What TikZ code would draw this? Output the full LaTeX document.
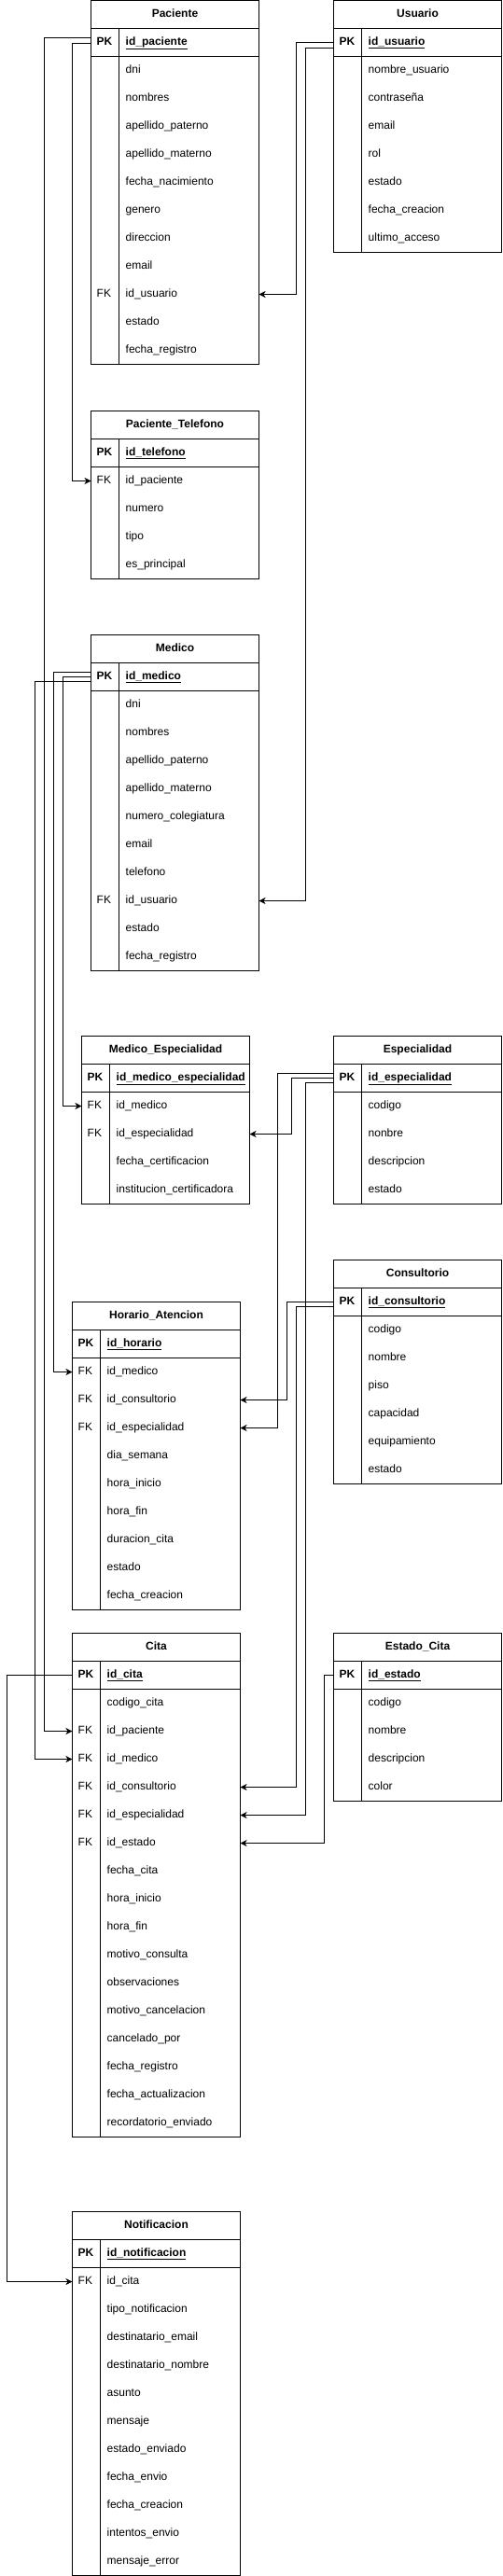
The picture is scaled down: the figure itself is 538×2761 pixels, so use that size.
\documentclass[tikz,border=0pt]{standalone}
\usepackage{fontspec}
\setmainfont{Liberation Sans}
\usetikzlibrary{arrows.meta,calc}
\tikzset{
  tabla/.style={draw=black, line width=1pt},
  fila/.style={anchor=north west, minimum width=180pt, minimum height=30pt, inner sep=0pt, outer sep=0pt},
  titulo/.style={inner sep=0pt, text height=9pt, text depth=3pt, font=\fontsize{12}{14}\selectfont\bfseries},
  clave/.style={anchor=west, inner sep=0pt, text height=9pt, text depth=3pt, font=\fontsize{12}{14}\selectfont},
  campo/.style={anchor=west, inner sep=0pt, text height=9pt, text depth=3pt, font=\fontsize{12}{14}\selectfont},
  relacion/.style={draw=black, line width=1pt, -{Stealth[length=7pt,width=7pt,inset=2pt]}},
}
\newcommand{\tabla}[7]{%
  \node[fila] (#1) at (#2,#3) {};
  \node[titulo] at (#1.center) {#4};
  \node[fila] (#1-pk) at (#2,#3+30) {};
  \node[clave,font=\fontsize{12}{14}\selectfont\bfseries] at ([xshift=6pt]#1-pk.west) {PK};
  \node[campo,font=\fontsize{12}{14}\selectfont\bfseries] at ([xshift=37pt]#1-pk.west) {\underline{#5}};
  \foreach \k/\f [count=\i] in {#6} {
    \node[fila] (#1-\i) at (#2,#3+30+30*\i) {};
    \node[clave] at ([xshift=6pt]#1-\i.west) {\k};
    \node[campo] at ([xshift=37pt]#1-\i.west) {\f};
  }
  \draw[tabla] (#2,#3) rectangle ++(180,60+30*#7);
  \draw[tabla] (#2,#3+30) -- ++(180,0) (#2,#3+60) -- ++(180,0) (#2+30,#3+30) -- ++(0,30+30*#7);
}

\begin{document}
\begin{tikzpicture}[x=1pt,y=-1pt]
\useasboundingbox (0,0) rectangle (538,2761);
\tabla{paciente}{97.5}{0.5}{Paciente}{id\_paciente}{/dni,/nombres,/apellido\_paterno,/apellido\_materno,/fecha\_nacimiento,/genero,/direccion,/email,FK/id\_usuario,/estado,/fecha\_registro}{11}
\tabla{usuario}{357.5}{0.5}{Usuario}{id\_usuario}{/nombre\_usuario,/contraseña,/email,/rol,/estado,/fecha\_creacion,/ultimo\_acceso}{7}
\tabla{telefono}{97.5}{440.5}{Paciente\_Telefono}{id\_telefono}{FK/id\_paciente,/numero,/tipo,/es\_principal}{4}
\tabla{medico}{97.5}{680.5}{Medico}{id\_medico}{/dni,/nombres,/apellido\_paterno,/apellido\_materno,/numero\_colegiatura,/email,/telefono,FK/id\_usuario,/estado,/fecha\_registro}{10}
\tabla{medesp}{87.5}{1110.5}{Medico\_Especialidad}{id\_medico\_especialidad}{FK/id\_medico,FK/id\_especialidad,/fecha\_certificacion,/institucion\_certificadora}{4}
\tabla{especialidad}{357.5}{1110.5}{Especialidad}{id\_especialidad}{/codigo,/nonbre,/descripcion,/estado}{4}
\tabla{consultorio}{357.5}{1350.5}{Consultorio}{id\_consultorio}{/codigo,/nombre,/piso,/capacidad,/equipamiento,/estado}{6}
\tabla{horario}{77.5}{1395.5}{Horario\_Atencion}{id\_horario}{FK/id\_medico,FK/id\_consultorio,FK/id\_especialidad,/dia\_semana,/hora\_inicio,/hora\_fin,/duracion\_cita,/estado,/fecha\_creacion}{9}
\tabla{cita}{77.5}{1750.5}{Cita}{id\_cita}{/codigo\_cita,FK/id\_paciente,FK/id\_medico,FK/id\_consultorio,FK/id\_especialidad,FK/id\_estado,/fecha\_cita,/hora\_inicio,/hora\_fin,/motivo\_consulta,/observaciones,/motivo\_cancelacion,/cancelado\_por,/fecha\_registro,/fecha\_actualizacion,/recordatorio\_enviado}{16}
\tabla{estado}{357.5}{1750.5}{Estado\_Cita}{id\_estado}{/codigo,/nombre,/descripcion,/color}{4}
\tabla{notif}{77.5}{2370.5}{Notificacion}{id\_notificacion}{FK/id\_cita,/tipo\_notificacion,/destinatario\_email,/destinatario\_nombre,/asunto,/mensaje,/estado\_enviado,/fecha\_envio,/fecha\_creacion,/intentos\_envio,/mensaje\_error}{11}

\draw[relacion] ([yshift=5pt]paciente-pk.west) -- ++(-50.5,0) |- (cita-2.west);
\draw[relacion] ([yshift=-1pt]paciente-pk.west) -- ++(-20.5,0) |- (telefono-1.west);
\draw[relacion] (usuario-pk.west) -- ++(-40,0) |- (paciente-9.east);
\draw[relacion] ([yshift=-5.7pt]usuario-pk.west) -- ++(-30.5,0) |- (medico-8.east);
\draw[relacion] ([yshift=5pt]medico-pk.west) -- ++(-40.5,0) |- (horario-1.west);
\draw[relacion] (medico-pk.west) -- ++(-30.5,0) |- (medesp-1.west);
\draw[relacion] ([yshift=-5pt]medico-pk.west) -- ++(-60.5,0) |- (cita-3.west);
\draw[relacion] ([yshift=5pt]especialidad-pk.west) -- ++(-60,0) |- (horario-3.east);
\draw[relacion] (especialidad-pk.west) -- ++(-45,0) |- (medesp-2.east);
\draw[relacion] ([yshift=-5pt]especialidad-pk.west) -- ++(-30,0) |- (cita-5.east);
\draw[relacion] (consultorio-pk.west) -- ++(-50,0) |- (horario-2.east);
\draw[relacion] ([yshift=-5pt]consultorio-pk.west) -- ++(-40,0) |- (cita-4.east);
\draw[relacion] (estado-pk.west) -- ++(-10,0) |- (cita-6.east);
\draw[relacion] (cita-pk.west) -- ++(-70.5,0) |- (notif-1.west);
\end{tikzpicture}
\end{document}
